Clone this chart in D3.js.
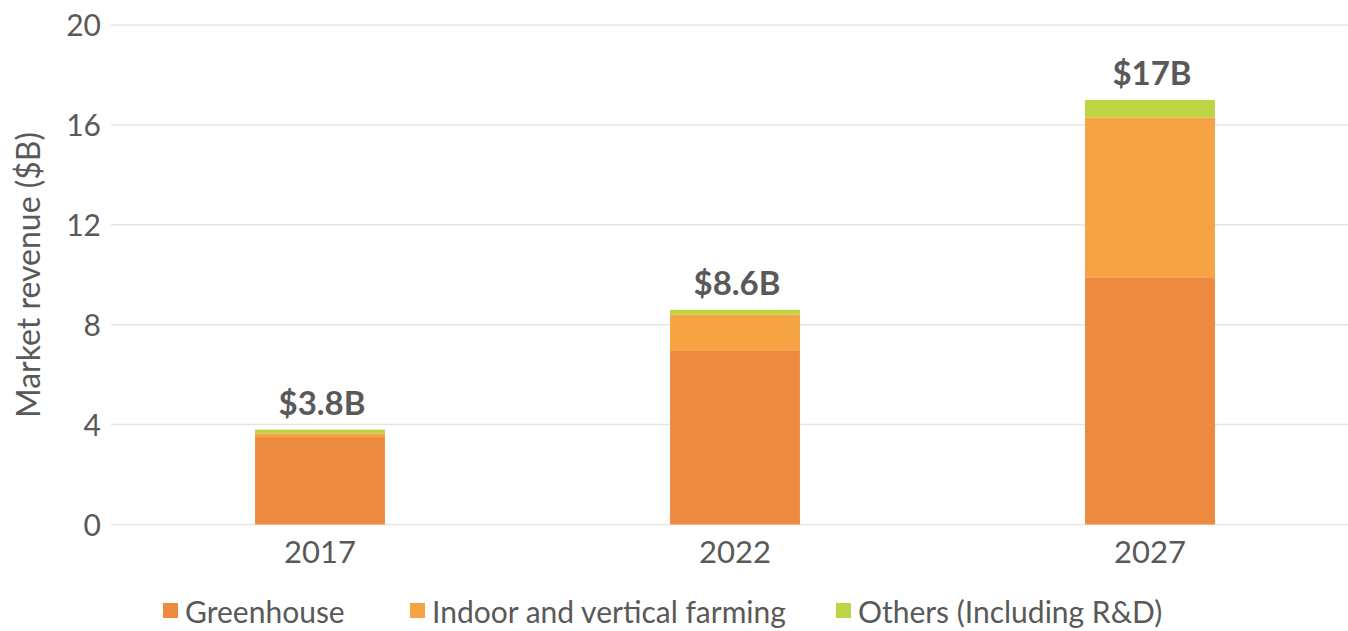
<!DOCTYPE html>
<html>
<head>
<meta charset="utf-8">
<script src="https://cdn.jsdelivr.net/npm/d3@7"></script>
<style>
  body { margin: 0; background: #fff; }
  svg text { font-family: "Lato", "Open Sans", sans-serif; fill: #595959; }
</style>
</head>
<body>
<svg id="chart" width="1348" height="631"></svg>
<script>
const years = ["2017", "2022", "2027"];
const greenhouse = [3.5, 6.95, 9.9];
const indoor = [0.15, 1.45, 6.4];
const others = [0.15, 0.2, 0.7];
const totalLabels = ["$3.8B", "$8.6B", "$17B"];
const seriesNames = ["Greenhouse", "Indoor and vertical farming", "Others (Including R&D)"];
const seriesColors = ["#ee8a40", "#f5a343", "#bdd444"];
const yTicks = [0, 4, 8, 12, 16, 20];

const svg = d3.select("#chart");

const x = d3.scaleBand()
  .domain(years)
  .range([112.5, 1357.5])
  .paddingInner(0.687)
  .paddingOuter(0.3435);

const y = d3.scaleLinear().domain([0, 20]).range([524.5, 25]);

// rows for d3.stack
const rows = years.map((yr, i) => ({
  year: yr,
  g: greenhouse[i],
  v: indoor[i],
  o: others[i]
}));
const layers = d3.stack().keys(["g", "v", "o"])(rows);

// gridlines
svg.append("g")
  .attr("class", "grid")
  .selectAll("line")
  .data(yTicks)
  .enter()
  .append("line")
  .attr("x1", 111)
  .attr("x2", 1348)
  .attr("y1", d => y(d))
  .attr("y2", d => y(d))
  .attr("stroke", "#e6e6e6")
  .attr("stroke-width", 1.5);

// y axis
const yAxis = svg.append("g")
  .attr("transform", "translate(101,0)")
  .call(d3.axisLeft(y).tickValues(yTicks).tickSize(0).tickPadding(0));
yAxis.select(".domain").remove();
yAxis.selectAll("text")
  .attr("font-size", 30)
  .attr("dy", "0.36em")
  .style("font-family", "Lato, sans-serif")
  .attr("fill", "#595959");

svg.append("text")
  .attr("transform", "translate(40,275) rotate(-90)")
  .attr("text-anchor", "middle")
  .attr("font-size", 32)
  .text("Market revenue ($B)");

// stacked bars
svg.append("g")
  .selectAll("g.layer")
  .data(layers)
  .enter()
  .append("g")
  .attr("class", "layer")
  .attr("fill", (d, i) => seriesColors[i])
  .selectAll("rect")
  .data(d => d)
  .enter()
  .append("rect")
  .attr("x", d => x(d.data.year))
  .attr("width", x.bandwidth())
  .attr("y", d => y(d[1]))
  .attr("height", d => y(d[0]) - y(d[1]));

// total labels
const totals = years.map((yr, i) => greenhouse[i] + indoor[i] + others[i]);
svg.append("g")
  .selectAll("text")
  .data(years)
  .enter()
  .append("text")
  .attr("x", d => x(d) + x.bandwidth() / 2 + 2)
  .attr("y", (d, i) => y(totals[i]) - 15)
  .attr("text-anchor", "middle")
  .attr("font-size", 33)
  .attr("font-weight", "bold")
  .text((d, i) => totalLabels[i]);

// x axis
const xAxis = svg.append("g")
  .attr("transform", "translate(0,538)")
  .call(d3.axisBottom(x).tickSize(0).tickPadding(0));
xAxis.select(".domain").remove();
xAxis.selectAll("text")
  .attr("font-size", 31)
  .attr("dy", "0.8em")
  .style("font-family", "Lato, sans-serif")
  .attr("fill", "#595959");

// legend
const legendX = [163, 410, 836];
const legend = svg.append("g")
  .selectAll("g")
  .data(seriesNames)
  .enter()
  .append("g")
  .attr("transform", (d, i) => "translate(" + legendX[i] + ",0)");
legend.append("rect")
  .attr("x", 0)
  .attr("y", 603)
  .attr("width", 15)
  .attr("height", 15)
  .attr("fill", (d, i) => seriesColors[i]);
legend.append("text")
  .attr("x", 22)
  .attr("y", 623)
  .attr("font-size", 30)
  .text(d => d);
</script>
</body>
</html>
